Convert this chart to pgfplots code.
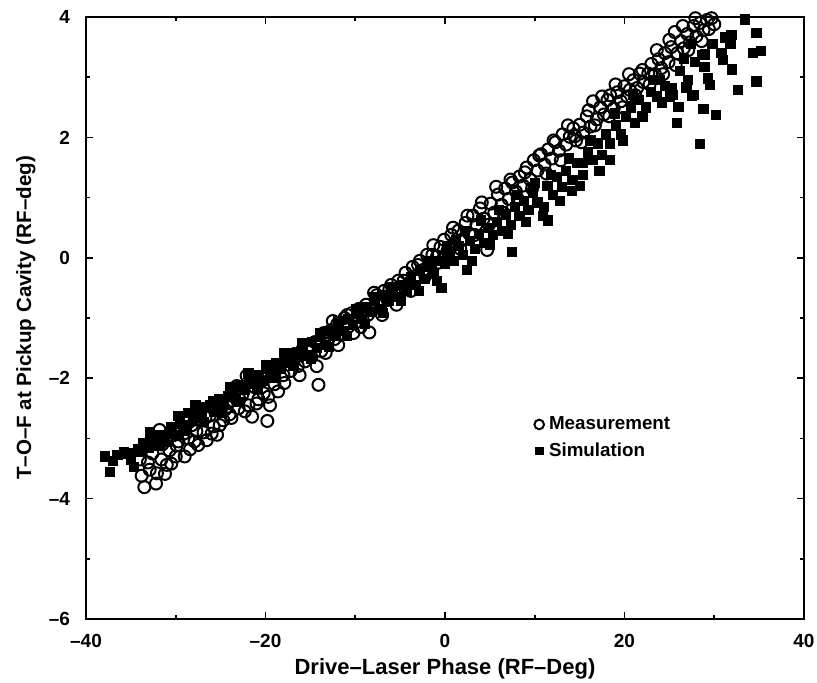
\documentclass[border=0pt]{standalone}
\usepackage{fontspec}
\setmainfont{Liberation Sans}
\usepackage{pgfplots}
\pgfplotsset{compat=1.18}
\begin{document}
\begin{tikzpicture}
\useasboundingbox (-43bp,-32bp) rectangle (365.5bp,309.5bp);
\begin{axis}[
  at={(0,0)}, anchor=south west,
  scale only axis, width=359bp, height=301bp,
  xmin=-40, xmax=40, ymin=-6, ymax=4,
  xtick={-40,-20,0,20,40}, xticklabels={--40,--20,0,20,40},
  ytick={-6,-4,-2,0,2,4}, yticklabels={--6,--4,--2,0,2,4},
  minor x tick num=1, minor y tick num=1,
  tick align=inside, major tick length=3.5bp, minor tick length=2bp,
  axis line style={line width=1bp}, tick style={line width=0.8bp, black},
  ticklabel style={font=\fontsize{9.5bp}{11bp}\selectfont\bfseries},
  xticklabel style={yshift=-4bp},
  yticklabel style={xshift=-4.5bp},
  xlabel={Drive--Laser Phase (RF--Deg)},
  ylabel={T--O--F at Pickup Cavity (RF--deg)},
  xlabel style={font=\fontsize{11bp}{13bp}\selectfont\bfseries, at={(axis description cs:0.5,0)}, anchor=base, yshift=-27.5bp},
  ylabel style={font=\fontsize{10.3bp}{12bp}\selectfont\bfseries, at={(axis description cs:-0.0766,0.5)}, anchor=base, rotate=0},
  clip=false,
  legend style={draw=none, fill=none, at={(rel axis cs:0.624,0.342)}, anchor=north west,
    font=\fontsize{9.4bp}{11.5bp}\selectfont\bfseries, row sep=2bp, column sep=1bp,
    inner sep=0pt, nodes={inner sep=1.5bp}},
  legend cell align=left,
  legend image code/.code={\draw[#1, every mark/.append style={scale=0.8}] plot coordinates {(0.25em,0)};},
]
\addplot[only marks, mark=o, mark size=3bp, mark options={line width=1bp, black}] coordinates {
(-34.0,-3.35) (-33.6,-3.15) (-33.5,-3.81) (-33.1,-3.40) (-32.8,-3.05) (-32.6,-3.25)
(-32.2,-3.75) (-32.1,-3.58) (-31.8,-2.86) (-31.5,-3.10) (-31.2,-3.59) (-31.0,-3.44)
(-30.7,-3.20) (-30.3,-2.95) (-30.0,-3.30) (-29.7,-3.05) (-29.3,-2.85) (-29.0,-3.30)
(-28.6,-3.00) (-28.2,-2.78) (-27.9,-3.05) (-27.5,-3.11) (-27.2,-2.70) (-26.9,-2.90)
(-26.55,-3.03) (-26.2,-2.62) (-25.8,-2.80) (-25.4,-2.94) (-25.0,-2.55) (-24.7,-2.70)
(-24.3,-2.42) (-24.0,-2.60) (-23.6,-2.30) (-23.2,-2.13) (-23.0,-2.50) (-22.6,-2.28)
(-22.1,-1.96) (-21.9,-2.45) (-21.5,-2.64) (-21.2,-2.15) (-20.8,-2.35) (-20.5,-2.05)
(-20.2,-2.25) (-19.8,-2.71) (-19.7,-2.31) (-19.3,-1.95) (-19.0,-2.10) (-18.6,-2.22)
(-18.4,-1.78) (-18.0,-1.95) (-17.6,-1.70) (-17.2,-1.88) (-16.8,-1.60) (-16.4,-1.80)
(-16.0,-1.55) (-15.6,-1.72) (-15.3,-1.48) (-14.9,-1.65) (-14.5,-1.40) (-14.1,-2.11)
(-13.8,-1.55) (-13.5,-1.25) (-13.1,-1.42) (-12.7,-1.20) (-12.3,-1.35) (-12.0,-1.10)
(-11.6,-1.28) (-11.2,-1.00) (-10.8,-1.15) (-10.4,-0.92) (-10.0,-1.08) (-9.6,-0.85)
(-9.2,-1.00) (-8.8,-0.78) (-8.43,-1.24) (-8.0,-0.85) (-7.6,-0.62) (-7.2,-0.80)
(-6.8,-0.55) (-6.4,-0.70) (-6.0,-0.45) (-5.6,-0.60) (-5.2,-0.38) (-4.8,-0.52)
(-4.4,-0.25) (-4.0,-0.42) (-3.6,-0.15) (-3.2,-0.30) (-2.8,-0.05) (-2.4,-0.20)
(-2.0,0.05) (-1.6,-0.10) (-1.3,0.21) (-0.9,0.02) (-0.5,0.18) (-0.1,0.30)
(0.3,0.12) (0.7,0.38) (1.1,0.22) (1.5,0.45) (1.9,0.30) (2.3,0.58)
(2.7,0.40) (3.1,0.70) (3.5,0.55) (3.9,0.82) (4.3,0.65) (4.7,0.13)
(5.1,0.90) (5.5,0.75) (5.9,1.05) (6.3,0.88) (6.7,1.15) (7.1,0.98)
(7.5,1.25) (7.9,1.10) (8.3,1.35) (8.7,1.20) (9.1,1.50) (9.5,1.30)
(9.9,1.62) (10.3,1.45) (10.7,1.72) (11.1,1.55) (11.5,1.80) (11.9,1.65)
(12.3,1.92) (12.7,1.78) (13.1,2.05) (13.5,1.88) (13.9,2.01) (14.3,2.15)
(14.6,1.95) (15.0,2.21) (15.4,2.08) (15.8,2.35) (16.2,2.18) (16.5,2.60)
(16.9,2.30) (17.3,2.50) (17.7,2.38) (18.1,2.62) (18.4,2.70) (18.8,2.48)
(19.2,2.75) (19.6,2.60) (20.0,2.85) (20.3,2.68) (20.6,2.79) (21.0,2.95)
(21.4,2.82) (21.7,3.06) (22.1,2.92) (22.65,3.06) (23.0,3.22) (23.4,3.05)
(23.8,3.30) (24.1,3.15) (24.5,3.40) (24.9,3.25) (25.2,3.50) (25.6,3.75)
(25.9,3.40) (26.3,3.60) (26.6,3.48) (27.0,3.72) (27.3,3.58) (27.7,3.85)
(28.0,3.68) (28.4,3.90) (28.8,3.78) (29.2,3.95) (29.7,3.98) (30.0,3.88)
(-33.8,-3.62) (-32.9,-3.52) (-31.6,-3.35) (-30.9,-2.98) (-30.5,-3.42) (-29.9,-3.12)
(-29.1,-2.92) (-28.4,-3.18) (-27.7,-2.88) (-26.7,-2.65) (-26.0,-2.92) (-25.1,-2.78)
(-24.5,-2.52) (-23.8,-2.66) (-22.9,-2.35) (-22.3,-2.55) (-21.0,-2.42) (-20.0,-1.98)
(-19.5,-2.45) (-18.9,-1.88) (-17.9,-2.08) (-17.0,-1.65) (-16.2,-1.95) (-15.1,-1.52)
(-14.3,-1.80) (-13.3,-1.58) (-12.5,-1.05) (-11.9,-1.45) (-10.9,-0.95) (-10.2,-1.25)
(-9.4,-1.15) (-8.6,-0.95) (-7.9,-0.58) (-7.0,-0.95) (-6.2,-0.52) (-5.4,-0.78)
(-4.6,-0.38) (-3.8,-0.55) (-3.0,-0.12) (-2.2,-0.30) (-1.4,0.05) (-0.7,-0.08)
(0.1,0.05) (0.9,0.50) (1.7,0.15) (2.5,0.70) (3.3,0.38) (4.1,0.92)
(4.9,0.55) (5.7,1.18) (6.5,0.75) (7.3,1.30) (8.1,0.98) (8.9,1.42)
(9.7,1.15) (10.5,1.70) (11.3,1.40) (12.1,1.95) (12.9,1.62) (13.7,2.20)
(14.5,2.02) (15.2,1.92) (16.0,2.45) (16.7,2.20) (17.5,2.68) (18.3,2.35)
(19.0,2.88) (19.8,2.50) (20.5,3.05) (21.2,2.70) (22.0,3.12) (22.8,2.88)
(23.6,3.45) (24.3,3.05) (25.0,3.62) (25.7,3.20) (26.5,3.85) (27.1,3.45)
(27.9,3.98) (28.6,3.60) (29.4,3.80)
};
\addlegendentry{Measurement}
\addplot[only marks, mark=square*, mark size=2.3bp, mark options={black, fill=black}] coordinates {
(-37.9,-3.30) (-37.3,-3.55) (-37.0,-3.38) (-35.8,-3.22) (-35.3,-3.25) (-34.7,-3.48)
(-34.2,-3.18) (-33.6,-3.08) (-33.0,-3.15) (-32.7,-3.00) (-32.2,-3.10) (-31.7,-2.95)
(-31.2,-3.05) (-30.5,-2.81) (-30.0,-2.95) (-29.5,-2.75) (-29.0,-2.88) (-28.6,-2.58)
(-28.1,-2.70) (-27.6,-2.55) (-27.1,-2.65) (-26.6,-2.48) (-26.2,-2.45) (-25.7,-2.55)
(-25.2,-2.35) (-24.7,-2.45) (-24.2,-2.30) (-23.8,-2.25) (-23.3,-2.35) (-22.8,-2.12)
(-22.3,-2.20) (-21.8,-2.02) (-21.3,-2.10) (-20.8,-1.95) (-20.3,-2.05) (-19.8,-1.85)
(-19.3,-1.92) (-18.8,-1.75) (-18.3,-1.85) (-17.8,-1.68) (-17.3,-1.75) (-16.8,-1.58)
(-16.3,-1.65) (-15.8,-1.50) (-15.3,-1.62) (-14.8,-1.40) (-14.3,-1.50) (-13.8,-1.32)
(-13.3,-1.45) (-12.8,-1.22) (-12.3,-1.30) (-11.8,-1.12) (-11.3,-1.22) (-10.8,-1.02)
(-10.3,-1.12) (-9.8,-0.92) (-9.3,-1.02) (-8.8,-0.82) (-8.3,-0.90) (-7.8,-0.72)
(-7.3,-0.85) (-6.8,-0.62) (-6.3,-0.72) (-5.8,-0.55) (-5.3,-0.65) (-4.8,-0.45)
(-4.3,-0.55) (-3.8,-0.32) (-3.3,-0.45) (-2.8,-0.22) (-2.3,-0.35) (-1.8,-0.15)
(-1.3,-0.25) (-0.8,-0.05) (-0.4,-0.50) (0.0,-0.10) (0.5,0.05) (1.0,-0.05)
(1.5,0.20) (2.0,0.05) (2.4,-0.20) (2.8,0.28) (3.3,0.15) (3.8,0.40)
(4.3,0.25) (4.8,0.50) (5.3,0.38) (5.8,0.60) (6.3,0.45) (6.8,0.72)
(7.43,0.10) (7.3,0.55) (7.8,0.85) (8.3,0.70) (8.8,0.95) (9.3,0.80)
(9.8,1.08) (10.3,0.92) (10.95,0.69) (11.0,0.85) (11.5,0.62) (11.4,1.20)
(12.0,1.05) (12.5,1.35) (13.0,1.18) (13.5,1.45) (14.1,1.11) (14.2,1.30)
(14.7,1.58) (15.4,1.38) (15.4,1.57) (15.9,1.75) (16.5,1.62) (17.0,1.90)
(17.45,1.71) (17.9,2.05) (18.4,1.90) (18.4,1.62) (19.0,2.20) (19.6,2.05)
(20.2,2.35) (20.7,2.50) (21.2,2.24) (21.6,2.62) (22.4,2.50) (22.9,2.75)
(23.6,2.68) (23.9,2.95) (24.5,2.85) (25.1,2.68) (25.3,2.82) (25.4,2.70)
(25.8,2.24) (26.0,2.51) (26.2,3.10) (26.9,2.83) (27.1,2.96) (27.5,2.69)
(27.7,2.70) (27.8,3.25) (28.4,1.89) (28.6,3.37) (28.8,2.48) (28.9,3.17)
(29.0,3.38) (29.3,2.98) (29.5,2.87) (29.8,3.55) (30.2,2.38) (30.8,3.40)
(31.0,3.29) (31.2,3.66) (31.8,3.56) (31.9,3.70) (32.0,3.13) (32.6,2.79)
(33.4,3.96) (34.3,3.40) (34.7,2.93) (34.7,3.74) (35.2,3.44)
(-36.5,-3.28) (-35.0,-3.35) (-33.9,-3.22) (-32.9,-2.90) (-31.9,-3.12) (-30.8,-2.92)
(-29.8,-2.62) (-28.8,-2.78) (-27.8,-2.45) (-26.9,-2.72) (-25.9,-2.38) (-24.9,-2.58)
(-23.9,-2.15) (-22.9,-2.40) (-21.9,-1.92) (-20.9,-2.18) (-19.9,-1.78) (-18.9,-2.00)
(-17.9,-1.58) (-16.9,-1.80) (-15.9,-1.42) (-14.9,-1.68) (-13.9,-1.25) (-12.9,-1.48)
(-11.9,-1.05) (-10.9,-1.30) (-9.9,-0.85) (-8.9,-1.10) (-7.9,-0.65) (-6.9,-0.92)
(-5.9,-0.48) (-4.9,-0.72) (-3.9,-0.40) (-2.9,-0.55) (-1.9,-0.05) (-0.9,-0.38)
(0.2,0.20) (1.2,0.30) (2.2,0.45) (3.0,-0.05) (4.0,0.62) (5.0,0.22)
(6.0,0.80) (7.0,0.40) (8.0,1.05) (9.0,0.60) (10.0,1.25) (11.8,1.38)
(12.8,0.95) (13.8,1.65) (15.0,1.20) (16.2,1.95) (17.2,1.45) (18.9,2.40)
(19.8,1.95) (20.9,2.70) (22.0,2.35) (23.2,2.95) (24.2,2.58) (26.6,3.30)
(27.4,3.55)
};
\addlegendentry{Simulation}
\end{axis}
\end{tikzpicture}
\end{document}
